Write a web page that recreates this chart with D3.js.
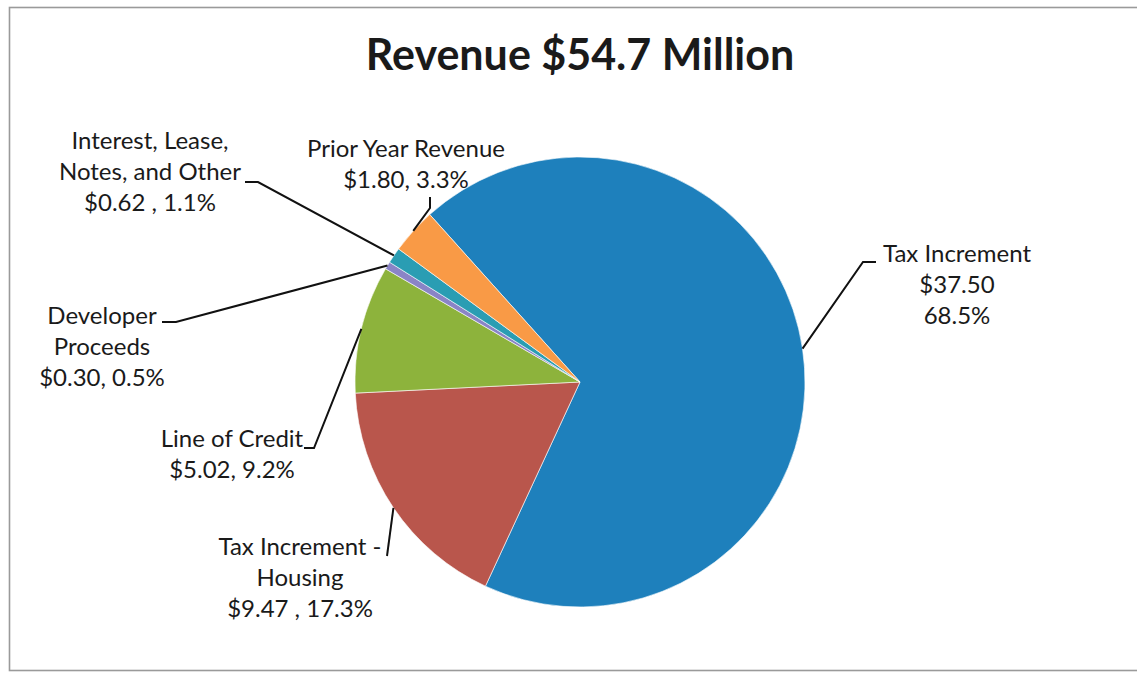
<!DOCTYPE html>
<html>
<head>
<meta charset="utf-8">
<script src="https://cdn.jsdelivr.net/npm/d3@7"></script>
<style>
  html, body { margin: 0; padding: 0; background: #fff; }
  svg { display: block; }
  text { font-family: Lato, "Open Sans", sans-serif; fill: #1a1a1a; }
</style>
</head>
<body>
<svg id="chart" width="1137" height="673"></svg>
<script>
// ---- data ----
const title = "Revenue $54.7 Million";
const categories = ["Tax Increment", "Tax Increment - Housing", "Line of Credit", "Developer Proceeds", "Interest, Lease, Notes, and Other", "Prior Year Revenue"];
const values = [37.50, 9.47, 5.02, 0.30, 0.62, 1.80];
const percents = ["68.5%", "17.3%", "9.2%", "0.5%", "1.1%", "3.3%"];
const labelLines = [
  ["Tax Increment", "$37.50", "68.5%"],
  ["Tax Increment -", "Housing", "$9.47 , 17.3%"],
  ["Line of Credit", "$5.02, 9.2%"],
  ["Developer", "Proceeds", "$0.30, 0.5%"],
  ["Interest, Lease,", "Notes, and Other", "$0.62 , 1.1%"],
  ["Prior Year Revenue", "$1.80, 3.3%"]
];
const colors = ["#1e80bc", "#b9564c", "#8db33c", "#8a84c6", "#2a9db3", "#f99a46"];

// ---- layout (not data) ----
const W = 1137, H = 673;
const cx = 580, cy = 382, R = 225;
const startDeg = -41.9;
// label text centre x, first baseline y, leader elbow and end
const labelLayout = [
  { x: 957, y: 262, elbow: [863, 262], end: [876, 262] },
  { x: 300, y: 555, elbow: null, end: [387, 556] },
  { x: 232, y: 447, elbow: [314, 448], end: [304, 448] },
  { x: 102, y: 324, elbow: [176, 322], end: [162, 322] },
  { x: 150, y: 149, elbow: [258, 182], end: [245, 182] },
  { x: 406, y: 157, elbow: [430, 208], end: [430, 197] }
];
const lineGap = 31;

const svg = d3.select("#chart");

// border
svg.append("rect")
  .attr("x", 9.5).attr("y", 7.5)
  .attr("width", 1135).attr("height", 663)
  .attr("fill", "none").attr("stroke", "#9a9a9a").attr("stroke-width", 1.6);

// title
svg.append("text")
  .attr("x", 580).attr("y", 70)
  .attr("text-anchor", "middle")
  .style("font-size", "43px").style("font-weight", "bold")
  .text(title);

const data = categories.map((c, i) => ({ name: c, value: values[i], lines: labelLines[i], color: colors[i], layout: labelLayout[i] }));

const start = startDeg * Math.PI / 180;
const pie = d3.pie().sort(null).value(d => d.value)
  .startAngle(start).endAngle(start + 2 * Math.PI);
const arcs = pie(data);
const arc = d3.arc().innerRadius(0).outerRadius(R);

const g = svg.append("g").attr("transform", `translate(${cx},${cy})`);
g.selectAll("path.slice")
  .data(arcs)
  .join("path")
  .attr("class", "slice")
  .attr("d", arc)
  .attr("fill", d => d.data.color)
  .attr("stroke", "#ffffff")
  .attr("stroke-width", 0.6);

// leader lines
arcs.forEach(a => {
  const mid = (a.startAngle + a.endAngle) / 2;
  const p0 = [cx + R * Math.sin(mid), cy - R * Math.cos(mid)];
  const L = a.data.layout;
  const pts = [p0];
  if (L.elbow) pts.push(L.elbow);
  pts.push(L.end);
  svg.append("path")
    .attr("d", d3.line()(pts))
    .attr("fill", "none")
    .attr("stroke", "#111")
    .attr("stroke-width", 2);
});

// labels
arcs.forEach(a => {
  const L = a.data.layout;
  const t = svg.append("text")
    .attr("text-anchor", "middle")
    .style("font-size", "24px");
  a.data.lines.forEach((ln, j) => {
    t.append("tspan").attr("x", L.x).attr("y", L.y + j * lineGap).text(ln);
  });
});
</script>
</body>
</html>
